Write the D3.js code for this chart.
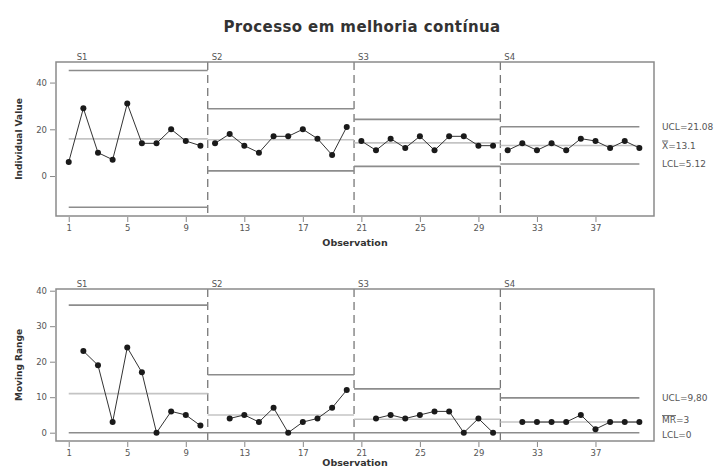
<!DOCTYPE html>
<html>
<head>
<meta charset="utf-8">
<script src="https://cdn.jsdelivr.net/npm/d3@7"></script>
<style>
  body { margin: 0; background: #fff; }
  text { font-family: "DejaVu Sans", sans-serif; }
</style>
</head>
<body>
<svg id="chart" width="718" height="468"></svg>
<script>
// individual values, 4 stages of 10 observations
var stageNames = ['S1', 'S2', 'S3', 'S4']
var stageFirst = [1, 11, 21, 31]
var stageLast = [10, 20, 30, 40]
var values = [
    6, 29, 10, 7, 31, 14, 14, 20, 15, 13,
    14, 18, 13, 10, 17, 17, 20, 16, 9, 21,
    15, 11, 16, 12, 17, 11, 17, 17, 13, 13,
    11, 14, 11, 14, 11, 16, 15, 12, 15, 12
]
// moving ranges (none on the first point of each stage)
var movingRanges = [
    null, 23, 19, 3, 24, 17, 0, 6, 5, 2,
    null, 4, 5, 3, 7, 0, 3, 4, 7, 12,
    null, 4, 5, 4, 5, 6, 6, 0, 4, 0,
    null, 3, 3, 3, 3, 5, 1, 3, 3, 3
]
// control limits per stage
var iCenter = [15.9, 15.5, 14.2, 13.1]
var iUCL = [45.16, 28.8, 24.25, 21.08]
var iLCL = [-13.36, 2.2, 4.15, 5.12]
var mrCenter = [11.0, 5.0, 3.78, 3.0]
var mrUCL = [35.94, 16.34, 12.34, 9.80]
var mrLCL = [0, 0, 0, 0]

var xTicks = [1, 5, 9, 13, 17, 21, 25, 29, 33, 37]
var iTicks = [0, 20, 40]
var mrTicks = [0, 10, 20, 30, 40]

var svg = d3.select('#chart')

svg.append('text')
    .attr('x', 362)
    .attr('y', 32)
    .attr('text-anchor', 'middle')
    .style('font-size', '15px')
    .style('font-weight', 'bold')
    .style('letter-spacing', '0.4px')
    .style('fill', '#333')
    .text('Processo em melhoria contínua')

var left = 56, right = 654

var x = d3.scaleLinear()
    .domain([0.13, 41])
    .range([left, right])

function buildPanel (opts) {
    var y = d3.scaleLinear()
        .domain(opts.domain)
        .range([opts.bottom, opts.top])
    var g = svg.append('g')

    // stage boundaries
    var bounds = [0.5, 10.5, 20.5, 30.5]
    g.selectAll('.stage')
        .data([10.5, 20.5, 30.5])
        .enter()
        .append('line')
        .attr('x1', function(d){ return x(d) })
        .attr('x2', function(d){ return x(d) })
        .attr('y1', opts.top)
        .attr('y2', opts.bottom)
        .style('stroke', '#777')
        .style('stroke-width', 1.3)
        .style('stroke-dasharray', '8,5')

    // control lines, one segment per stage
    function stepLine (arr, color, width) {
        stageNames.forEach(function(s, i){
            var x1 = i == 0 ? stageFirst[i] : bounds[i]
            var x2 = i == 3 ? stageLast[i] : bounds[i + 1]
            g.append('line')
                .attr('x1', x(x1)).attr('x2', x(x2))
                .attr('y1', y(arr[i])).attr('y2', y(arr[i]))
                .style('stroke', color)
                .style('stroke-width', width)
        })
    }
    stepLine(opts.center, '#c4c4c4', 1.6)
    stepLine(opts.ucl, '#8c8c8c', 1.6)
    stepLine(opts.lcl, '#8c8c8c', 1.6)

    // data per stage
    var line = d3.line()
        .x(function(d){ return x(d.obs) })
        .y(function(d){ return y(d.v) })
    var pts = opts.data.map(function(v, i){ return {obs: i + 1, v: v, stage: Math.floor(i / 10)} })
        .filter(function(d){ return d.v != null })
    stageNames.forEach(function(s, i){
        g.append('path')
            .datum(pts.filter(function(d){ return d.stage == i }))
            .attr('d', line)
            .style('fill', 'none')
            .style('stroke', '#333')
            .style('stroke-width', 1)
    })
    g.selectAll('.pt')
        .data(pts)
        .enter()
        .append('circle')
        .attr('cx', function(d){ return x(d.obs) })
        .attr('cy', function(d){ return y(d.v) })
        .attr('r', 3)
        .style('fill', '#1a1a1a')

    // frame
    g.append('rect')
        .attr('x', left).attr('y', opts.top)
        .attr('width', right - left).attr('height', opts.bottom - opts.top)
        .style('fill', 'none')
        .style('stroke', '#8a8a8a')
        .style('stroke-width', 1.5)

    // axes
    var yAxis = g.append('g')
        .attr('transform', 'translate(' + (left - 1) + ',0)')
        .call(d3.axisLeft(y).tickValues(opts.ticks).tickSize(5).tickPadding(3))
    var xAxis = g.append('g')
        .attr('transform', 'translate(0,' + (opts.bottom + 1) + ')')
        .call(d3.axisBottom(x).tickValues(xTicks).tickSize(5).tickPadding(3))
    ;[yAxis, xAxis].forEach(function(a){
        a.select('.domain').remove()
        a.selectAll('line').style('stroke', '#888')
        a.selectAll('text')
            .style('font-family', '"DejaVu Sans", sans-serif')
            .style('font-size', '8.5px')
            .style('fill', '#555')
    })

    // stage labels
    g.selectAll('.slabel')
        .data(stageNames)
        .enter()
        .append('text')
        .attr('x', function(d, i){ return i == 0 ? x(1) + 8 : x(bounds[i]) + 4 })
        .attr('y', opts.top - 2)
        .style('font-size', '8.5px')
        .style('fill', '#555')
        .text(function(d){ return d })

    // titles
    g.append('text')
        .attr('transform', 'translate(22,' + ((opts.top + opts.bottom) / 2) + ') rotate(-90)')
        .attr('text-anchor', 'middle')
        .style('font-size', '9px')
        .style('font-weight', 'bold')
        .style('fill', '#333')
        .text(opts.yTitle)
    g.append('text')
        .attr('x', (left + right) / 2)
        .attr('y', opts.xTitleY)
        .attr('text-anchor', 'middle')
        .style('font-size', '9.5px')
        .style('font-weight', 'bold')
        .style('fill', '#333')
        .text('Observation')

    // right side limit labels
    opts.labels.forEach(function(l){
        var t = g.append('text')
            .attr('x', 662)
            .attr('y', y(l.v) + l.dy)
            .attr('dy', '0.35em')
            .style('font-size', '9px')
            .style('fill', '#555')
        t.append('tspan').style('text-decoration', l.bar ? 'overline' : 'none').text(l.name)
        t.append('tspan').text(l.text)
    })
}

buildPanel({
    top: 62, bottom: 216,
    domain: [-17.1, 48.8],
    ticks: iTicks,
    data: values,
    center: iCenter, ucl: iUCL, lcl: iLCL,
    yTitle: 'Individual Value',
    xTitleY: 246,
    labels: [
        {name: 'UCL', text: '=21.08', v: iUCL[3], bar: false, dy: 0},
        {name: 'X', text: '=13.1', v: iCenter[3], bar: true, dy: 0},
        {name: 'LCL', text: '=5.12', v: iLCL[3], bar: false, dy: 0}
    ]
})

buildPanel({
    top: 289, bottom: 441,
    domain: [-2.34, 40.48],
    ticks: mrTicks,
    data: movingRanges,
    center: mrCenter, ucl: mrUCL, lcl: mrLCL,
    yTitle: 'Moving Range',
    xTitleY: 466,
    labels: [
        {name: 'UCL', text: '=9,80', v: mrUCL[3], bar: false, dy: 0},
        {name: 'MR', text: '=3', v: mrCenter[3], bar: true, dy: -2},
        {name: 'LCL', text: '=0', v: mrLCL[3], bar: false, dy: 2}
    ]
})
</script>
</body>
</html>
